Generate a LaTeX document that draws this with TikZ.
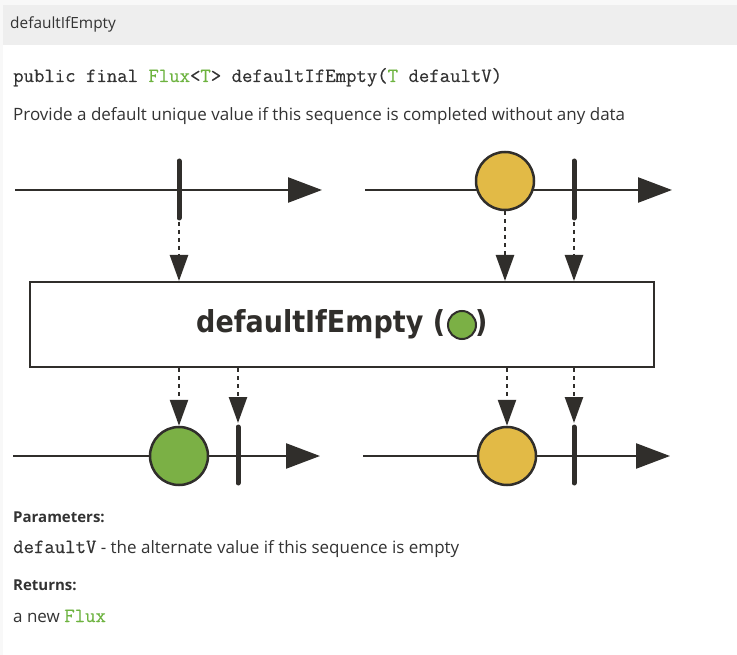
\documentclass[tikz,border=0pt]{standalone}
\usepackage{fontspec}
\setmainfont{Open Sans}
\newfontfamily\codefont[FakeBold=0.3]{Latin Modern Mono}
\newfontfamily\boxfont{DejaVu Sans}
\usetikzlibrary{arrows.meta}
\definecolor{ink}{HTML}{302E2B}
\definecolor{txt}{HTML}{333333}
\definecolor{springgreen}{HTML}{6DB33F}
\definecolor{dotgreen}{HTML}{7BB045}
\definecolor{dotyellow}{HTML}{E2BA46}
\definecolor{pagebg}{HTML}{F8F8F8}
\definecolor{bandbg}{HTML}{EEEEEE}
\tikzset{
  timeline/.style={draw=ink, line width=2.5pt, -{Triangle[length=34pt,width=25pt]}},
  tickmark/.style={draw=ink, line width=5pt, line cap=round},
  flow/.style={draw=ink, line width=2.5pt, dash pattern=on 4pt off 4pt, -{Triangle[length=26pt,width=18pt]}},
  marble/.style={circle, draw=ink, line width=2.5pt, minimum size=58pt, inner sep=0pt},
  opbox/.style={rectangle, draw=ink, line width=2pt, fill=white, inner sep=0pt, minimum width=624pt, minimum height=85pt},
  label/.style={anchor=base west, inner sep=0pt, text=txt},
  sans/.style={font=\fontsize{17}{20}\selectfont},
  mono/.style={font=\codefont\fontsize{20.2}{23}\selectfont},
  heading/.style={font=\bfseries\fontsize{15}{18}\selectfont},
  boxtext/.style={anchor=base west, inner sep=0pt, text=ink, font=\boxfont\bfseries\fontsize{27}{30}\selectfont},
}
\newcommand{\code}[1]{{\codefont\fontsize{20.2}{23}\selectfont #1}}
\begin{document}
\begin{tikzpicture}[x=1pt,y=-1pt]
\useasboundingbox (0,0) rectangle (737,655);
\fill[pagebg] (0,0) rectangle (737,655);
\fill[white] (3,45) rectangle (737,655);
\fill[bandbg] (3,5) rectangle (737,45);

% texts
\node[label, font=\fontsize{15.4}{18}\selectfont] (title) at (10,29) {defaultIfEmpty};
\node[label, mono] (sig) at (13,82) {public final {\color{springgreen}Flux}<{\color{springgreen}T}> defaultIfEmpty({\color{springgreen}T} defaultV)};
\node[label, sans] (desc) at (13,121) {Provide a default unique value if this sequence is completed without any data};
\node[label, heading] (params) at (13,522) {Parameters:};
\node[label, sans] (param1) at (13,553) {\code{defaultV} - the alternate value if this sequence is empty};
\node[label, heading] (returns) at (13,590) {Returns:};
\node[label, sans] (ret) at (13,622) {a new \code{\color{springgreen}Flux}};

% operator box
\node[opbox] (box) at (342,324.5) {};
\node[boxtext] (boxlabel) at (196,333) {\scalebox{1}[1.12]{defaultIfEmpty (}};
\node[circle, draw=ink, line width=2pt, fill=dotgreen, minimum size=28pt, inner sep=0pt] (gdot) at (462,325) {};
\node[boxtext] (rparen) at (475,333) {\scalebox{1}[1.12]{)}};

% top timelines
\coordinate (tl1s) at (15,190); \coordinate (tl1e) at (322,190);
\coordinate (tl2s) at (365,190); \coordinate (tl2e) at (672,190);
\draw[timeline] (tl1s) -- (tl1e);
\draw[timeline] (tl2s) -- (tl2e);
\coordinate (t1a) at (179,161); \coordinate (t1b) at (179,218);
\draw[tickmark] (t1a) -- (t1b);
\coordinate (t2a) at (574,161); \coordinate (t2b) at (574,218);
\draw[tickmark] (t2a) -- (t2b);
\node[marble, fill=dotyellow] (y1) at (505,181) {};

% bottom timelines
\coordinate (bl1s) at (13,456); \coordinate (bl1e) at (320,456);
\coordinate (bl2s) at (363,456); \coordinate (bl2e) at (670,456);
\draw[timeline] (bl1s) -- (bl1e);
\draw[timeline] (bl2s) -- (bl2e);
\node[marble, fill=dotgreen] (g1) at (179,456) {};
\node[marble, fill=dotyellow] (y2) at (507,456) {};
\coordinate (t3a) at (238,427); \coordinate (t3b) at (238,483);
\draw[tickmark] (t3a) -- (t3b);
\coordinate (t4a) at (574,427); \coordinate (t4b) at (574,483);
\draw[tickmark] (t4a) -- (t4b);

% flows in
\draw[flow] ([yshift=-4pt]t1b) -- (t1b |- box.north);
\draw[flow] (y1.south) -- (y1.south |- box.north);
\draw[flow] ([yshift=-4pt]t2b) -- (t2b |- box.north);
% flows out
\draw[flow] (g1.north |- box.south) -- (g1.north);
\draw[flow] (t3a |- box.south) -- ([yshift=4pt]t3a);
\draw[flow] (y2.north |- box.south) -- (y2.north);
\draw[flow] (t4a |- box.south) -- ([yshift=4pt]t4a);
\end{tikzpicture}
\end{document}
